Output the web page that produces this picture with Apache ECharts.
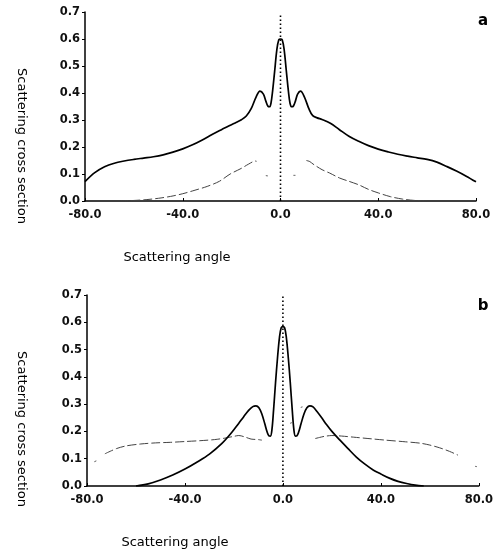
<!DOCTYPE html>
<html>
<head>
<meta charset="utf-8">
<script src="https://cdn.jsdelivr.net/npm/echarts@6/dist/echarts.min.js"></script>
<style>
html,body{margin:0;padding:0;background:#fff;}
#chart{width:496px;height:554px;}
</style>
</head>
<body>
<div id="chart"></div>
<script>
// ---- data ----
var xTicks = [-80, -40, 0, 40, 80];
var yTicks = [0, 0.1, 0.2, 0.3, 0.4, 0.5, 0.6, 0.7];
var panelLabels = ['a', 'b'];
var xName = 'Scattering angle';
var yName = 'Scattering cross section';

// panel a : solid curve [angle, value]
var aSolid = [
  [-80,0.072],[-76,0.105],[-72,0.127],[-68,0.14],[-64,0.148],[-60,0.154],[-56,0.159],[-52,0.164],
  [-48,0.171],[-44,0.181],[-40,0.193],[-36,0.208],[-32,0.226],[-28,0.246],[-24,0.265],[-21,0.279],
  [-18,0.292],[-16,0.301],[-14,0.315],[-12,0.342],[-10,0.385],[-8.4,0.407],[-7,0.396],[-6,0.37],
  [-5.2,0.352],[-4.5,0.349],[-3.9,0.362],[-3.2,0.41],[-2.4,0.48],[-1.5,0.56],[-0.7,0.597],[0,0.6],
  [0.7,0.597],[1.5,0.56],[2.4,0.48],[3.2,0.41],[3.9,0.362],[4.6,0.349],[5.3,0.352],[6.1,0.37],
  [7,0.396],[8.2,0.407],[9.8,0.385],[11.6,0.342],[13.2,0.316],[15,0.308],[17,0.302],[20.4,0.288],
  [24,0.265],[28,0.24],[32,0.221],[36,0.205],[40,0.192],[44,0.182],[48,0.173],[52,0.166],
  [56,0.16],[60,0.154],[64,0.144],[68,0.128],[72,0.111],[76,0.092],[80,0.071]
];
// panel a : dashed curve (gaps = null)
var aDashed = [
  [-66,0],[-60,0.002],[-55,0.005],[-50,0.01],[-45,0.017],[-40,0.027],[-35,0.04],[-30,0.054],
  [-25,0.073],[-20.6,0.1],[-16,0.121],[-13,0.137],[-10.3,0.148],[-9.8,0.147],
  [-9.5,null],
  [-6.0,0.094],[-5.2,0.093],
  [0,null],
  [5.3,0.095],[6.1,0.095],
  [9,null],
  [10.6,0.15],[12,0.146],[13.3,0.137],[17,0.116],[20,0.104],[24.2,0.085],[28,0.073],[32,0.06],
  [36,0.043],[40,0.03],[45,0.016],[50,0.007],[55,0.002],[60,0]
];

// panel b : solid curve
var bSolid = [
  [-60,0],[-55,0.008],[-50,0.022],[-45,0.04],[-40,0.062],[-35,0.088],[-30,0.117],[-25,0.155],
  [-21,0.195],[-18,0.23],[-16,0.254],[-14,0.277],[-12.3,0.291],[-11,0.294],[-9.8,0.287],[-8.6,0.264],
  [-7.4,0.228],[-6.4,0.197],[-5.7,0.184],[-5.1,0.183],[-4.5,0.205],[-3.8,0.28],[-3,0.38],[-2.2,0.47],
  [-1.4,0.545],[-0.7,0.58],[0,0.584],[0.7,0.58],[1.4,0.545],[2.2,0.47],[3,0.38],[3.8,0.28],
  [4.5,0.205],[5.1,0.183],[5.7,0.184],[6.4,0.197],[7.4,0.228],[8.6,0.264],[9.8,0.287],[11,0.294],
  [12.3,0.29],[14,0.272],[16,0.248],[17.8,0.225],[20,0.2],[23.3,0.168],[26.5,0.138],[30,0.106],
  [33.5,0.08],[37,0.058],[40,0.044],[43.7,0.028],[47,0.017],[50.5,0.009],[54,0.003],[57.5,0]
];
// panel b : dashed curve
var bDashed = [
  [-77,0.089],[-76.2,0.092],
  [-75,null],
  [-72.7,0.118],[-68,0.137],[-64,0.147],[-58,0.154],[-52,0.158],[-46,0.16],[-40,0.163],[-34,0.166],
  [-28,0.17],[-24,0.175],[-20,0.182],[-18,0.185],[-15,0.178],[-13,0.172],[-10,0.17],[-8.6,0.168],
  [-5,null],
  [3.0,0.23],[3.6,0.232],
  [5,null],
  [7.3,0.288],[8.0,0.29],
  [10,null],
  [13.2,0.174],[15,0.178],[17,0.182],[20,0.185],[24,0.183],[30,0.178],[36,0.173],[42,0.168],
  [50,0.162],[56,0.157],[60,0.15],[64,0.14],[68,0.127],[71.5,0.113],
  [75,null],
  [78.5,0.072],[79.2,0.071]
];
// vertical dotted reference line at 0 degrees
var centerLineA = [[0,0],[0,0.69]];
var centerLineB = [[0,0],[0,0.7]];

// ---- chart ----
var chart = echarts.init(document.getElementById('chart'), null, {renderer:'canvas'});
var tickFont = {fontFamily:'DejaVu Sans', fontWeight:'bold', fontSize:11.5, color:'#111'};
function xAxis(idx){
  return {
    type:'value', gridIndex:idx, min:xTicks[0], max:xTicks[xTicks.length-1], interval:40,
    axisLine:{show:true, onZero:false, lineStyle:{color:'#000', width:1.5}},
    axisTick:{show:true, inside:true, length:3, lineStyle:{color:'#000', width:1}},
    splitLine:{show:false},
    axisLabel:Object.assign({margin:8, formatter:function(v){return v.toFixed(1);}}, tickFont)
  };
}
function yAxis(idx){
  return {
    type:'value', gridIndex:idx, min:yTicks[0], max:yTicks[yTicks.length-1], interval:0.1,
    axisLine:{show:true, onZero:false, lineStyle:{color:'#000', width:1.5}},
    axisTick:{show:true, length:3, lineStyle:{color:'#000', width:1}},
    splitLine:{show:false},
    axisLabel:Object.assign({margin:5, formatter:function(v){return v.toFixed(1);}}, tickFont)
  };
}
function solid(data, idx){
  return {type:'line', xAxisIndex:idx, yAxisIndex:idx, data:data, showSymbol:false, smooth:0.35,
    lineStyle:{color:'#000', width:1.7}, silent:true, z:3};
}
function dashed(data, idx){
  return {type:'line', xAxisIndex:idx, yAxisIndex:idx, data:data, showSymbol:false, smooth:0.3,
    connectNulls:false, lineStyle:{color:'#444', width:1, type:[9,3]}, silent:true, z:2};
}
function dotted(data, idx){
  return {type:'line', xAxisIndex:idx, yAxisIndex:idx, data:data, showSymbol:false,
    lineStyle:{color:'#000', width:1.6, type:[1.6,2.4]}, silent:true, z:1};
}
var nameFont = '13px "DejaVu Sans"';
function txt(x, y, s, font, rot){
  return {type:'text', x:x, y:y, rotation:rot||0, silent:true,
    style:{text:s, font:font, fill:'#000', textAlign:'center', textVerticalAlign:'middle'}};
}
chart.setOption({
  animation:false,
  backgroundColor:'#fff',
  grid:[
    {left:85, right:20, top:12, height:189},
    {left:87, right:17, top:295, height:191}
  ],
  xAxis:[xAxis(0), xAxis(1)],
  yAxis:[yAxis(0), yAxis(1)],
  series:[
    dotted(centerLineA,0), dashed(aDashed,0), solid(aSolid,0),
    dotted(centerLineB,1), dashed(bDashed,1), solid(bSolid,1)
  ],
  graphic:[
    txt(21, 146, yName, nameFont, -Math.PI/2),
    txt(177, 258, xName, nameFont),
    txt(21.5, 429, yName, nameFont, -Math.PI/2),
    txt(175, 543, xName, nameFont),
    txt(483, 21, panelLabels[0], 'bold 15px "DejaVu Sans"'),
    txt(483, 306, panelLabels[1], 'bold 15px "DejaVu Sans"')
  ]
});
</script>
</body>
</html>
